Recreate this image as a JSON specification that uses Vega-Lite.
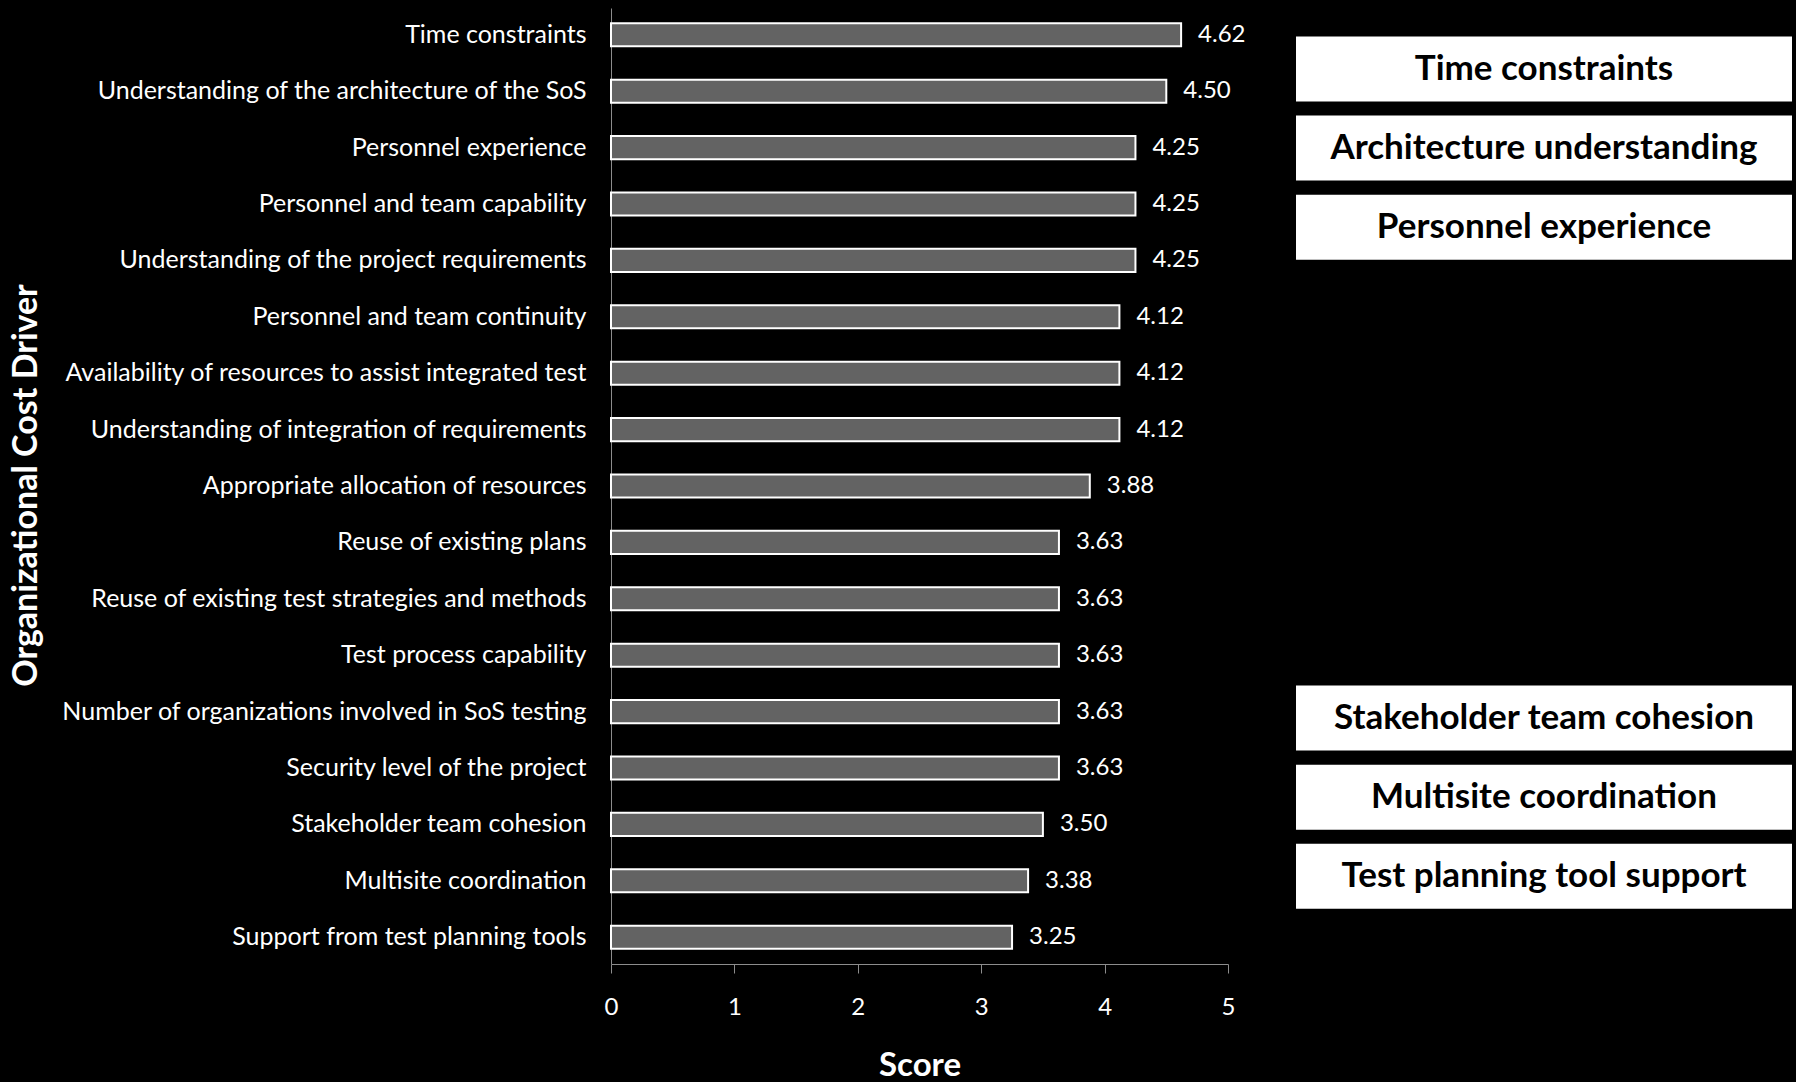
{
  "$schema": "https://vega.github.io/schema/vega-lite/v6.json",
  "background": "black",
  "padding": {"left": 9, "top": 8, "right": 5, "bottom": 0},
  "bounds": "flush",
  "spacing": 68,
  "config": {
    "view": {"stroke": null},
    "font": "Lato",
    "axis": {"labelFont": "Lato", "titleFont": "Lato", "labelColor": "white", "titleColor": "white", "domainColor": "#8c8c8c", "tickColor": "#8c8c8c", "grid": false}
  },
  "hconcat": [
    {
      "width": 617,
      "height": 956,
      "data": {"values": [
        {"driver": "Time constraints", "score": 4.62},
        {"driver": "Understanding of the architecture of the SoS", "score": 4.50},
        {"driver": "Personnel experience", "score": 4.25},
        {"driver": "Personnel and team capability", "score": 4.25},
        {"driver": "Understanding of the project requirements", "score": 4.25},
        {"driver": "Personnel and team continuity", "score": 4.12},
        {"driver": "Availability of resources to assist integrated test", "score": 4.12},
        {"driver": "Understanding of integration of requirements", "score": 4.12},
        {"driver": "Appropriate allocation of resources\u2009", "score": 3.88},
        {"driver": "Reuse of existing plans", "score": 3.63},
        {"driver": "Reuse of existing test strategies and methods", "score": 3.63},
        {"driver": "Test process capability", "score": 3.63},
        {"driver": "Number of organizations involved in SoS testing", "score": 3.63},
        {"driver": "Security level of the project", "score": 3.63},
        {"driver": "Stakeholder team cohesion", "score": 3.50},
        {"driver": "Multisite coordination", "score": 3.38},
        {"driver": "Support from test planning tools\u2009", "score": 3.25}
      ]},
      "encoding": {
        "y": {"field": "driver", "type": "nominal", "sort": null,
              "scale": {"paddingInner": 0.59, "paddingOuter": 0.27},
              "axis": {"title": "Organizational Cost Driver", "titleFontSize": 34, "titleFontWeight": "bold", "titleX": -585, "titleY": 477, "titleAngle": 270, "titleAlign": "center", "titleBaseline": "middle", "labelFontSize": 25, "labelPadding": 25, "ticks": false, "labelLimit": 800}},
        "x": {"field": "score", "type": "quantitative", "scale": {"domain": [0, 5], "nice": false},
              "axis": {"values": [0, 1, 2, 3, 4, 5], "title": "Score", "titleFontSize": 33, "titleFontWeight": "bold", "titlePadding": 30, "labelFontSize": 24, "labelPadding": 22, "labelFlush": false, "tickSize": 9}}
      },
      "layer": [
        {"mark": {"type": "bar", "fill": "#636363", "stroke": "white", "strokeWidth": 2}},
        {"mark": {"type": "text", "align": "left", "baseline": "middle", "dx": 17, "fontSize": 24, "color": "white", "font": "Lato"},
         "encoding": {"text": {"field": "score", "type": "quantitative", "format": ".2f"}}}
      ]
    },
    {
      "width": 496,
      "height": 956,
      "data": {"values": [
        {"label": "Time constraints", "pos": 1},
        {"label": "Architecture understanding", "pos": 2},
        {"label": "Personnel experience", "pos": 3},
        {"label": "Stakeholder team cohesion", "pos": 9.2},
        {"label": "Multisite coordination", "pos": 10.2},
        {"label": "Test planning tool support", "pos": 11.2}
      ]},
      "encoding": {
        "y": {"field": "pos", "type": "quantitative", "scale": {"domain": [0.294, 12.244], "reverse": true, "nice": false, "zero": false}, "axis": null}
      },
      "layer": [
        {"mark": {"type": "bar", "orient": "horizontal", "fill": "white", "size": 65},
         "encoding": {"x": {"datum": 0, "type": "quantitative", "scale": {"domain": [0, 1]}, "axis": null}, "x2": {"datum": 1}}},
        {"mark": {"type": "text", "font": "Lato", "fontWeight": "bold", "fontSize": 35, "color": "black", "baseline": "middle"},
         "encoding": {"x": {"datum": 0.5, "type": "quantitative", "scale": {"domain": [0, 1]}, "axis": null}, "text": {"field": "label"}}}
      ]
    }
  ]
}
